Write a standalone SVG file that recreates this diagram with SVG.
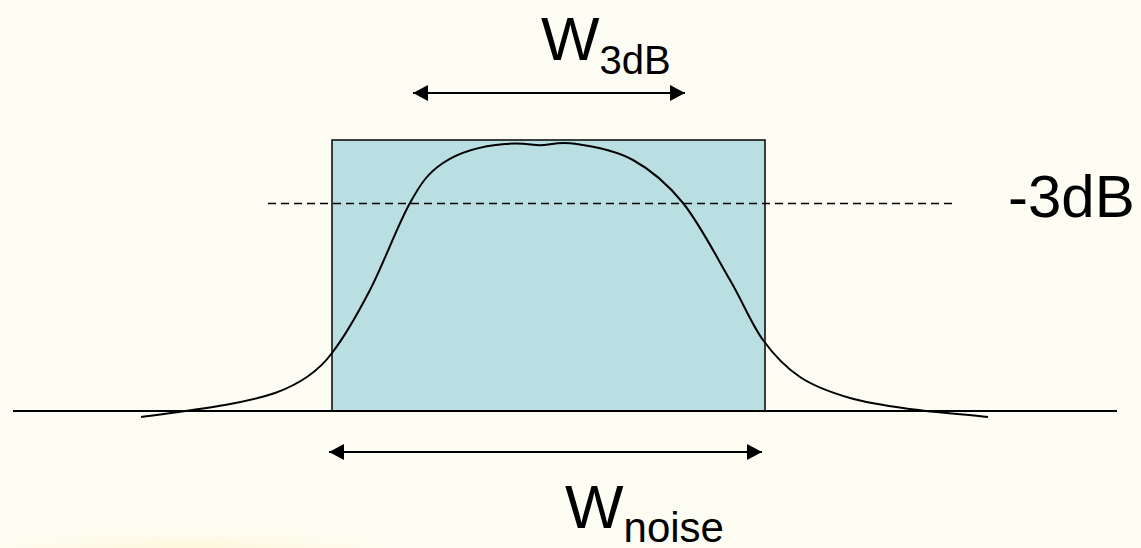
<svg xmlns="http://www.w3.org/2000/svg" width="1141" height="548" viewBox="0 0 1141 548">
  <defs>
    <style>
      .lbl { font-family: "Liberation Sans", Arial, sans-serif; fill: #000; }
      .axis { stroke: #000; stroke-width: 2; fill: none; }
      .dash { stroke: #000; stroke-width: 1.6; stroke-dasharray: 8 5; fill: none; }
      .curve { stroke: #000; stroke-width: 2; fill: none; }
      .dim { stroke: #000; stroke-width: 2; fill: none; marker-start: url(#ah); marker-end: url(#ah); }
    </style>
    <marker id="ah" viewBox="0 0 15 16" refX="15" refY="8" markerWidth="15" markerHeight="16" markerUnits="userSpaceOnUse" orient="auto-start-reverse">
      <path d="M0,0 L15,8 L0,16 Z" fill="#000"/>
    </marker>
    <radialGradient id="glow" cx="0.5" cy="0.5" r="0.5">
      <stop offset="0" stop-color="#FCEFC0" stop-opacity="0.9"/>
      <stop offset="1" stop-color="#FEFDF2" stop-opacity="0"/>
    </radialGradient>
  </defs>
  <rect x="0" y="0" width="1141" height="548" fill="#FEFDF3"/>
  <ellipse cx="190" cy="560" rx="290" ry="40" fill="url(#glow)"/>

  <g id="noise-band">
    <rect x="332" y="140" width="433" height="271" fill="#B9DFE2" stroke="#111" stroke-width="1.6"/>
  </g>

  <g id="axis">
    <line class="axis" x1="13" y1="411" x2="1117" y2="411"/>
  </g>

  <g id="threshold">
    <line class="dash" x1="268" y1="203.5" x2="957" y2="203.5"/>
    <text class="lbl" x="1008" y="217" font-size="60">-3dB</text>
  </g>

  <g id="response">
    <path class="curve" d="M141,417 C190,410 240,405 275,393 C300,384 318,372 332,353 C343.7,337.8 357,315 370,290 C383,265 398.3,223.5 410,203 C421,183 428,173 443,163 C458,153 480,146 505,144 C521.7,142.5 528,144.5 540,145.3 C552,144.5 559.5,141.6 575,143.8 C590.5,146 615,150.1 633,160 C651,169.9 666.8,183 683,203 C699.2,223 716.7,257.2 730,280 C743.3,302.8 751.3,323.8 763,340 C774.7,356.2 785.5,367.3 800,377 C814.5,386.7 831.7,392.7 850,398 C868.3,403.3 887,405.8 910,409 C933,412.2 962,414.3 988,417"/>
  </g>

  <g id="connectors">
    <line class="dim" x1="413" y1="93" x2="685" y2="93"/>
    <line class="dim" x1="329" y1="452" x2="762" y2="452"/>
  </g>

  <g id="w3db">
    <text class="lbl" x="541" y="60" font-size="62">W<tspan font-size="40" dy="14">3dB</tspan></text>
  </g>
  <g id="wnoise">
    <text class="lbl" x="565" y="528" font-size="62">W<tspan font-size="42" dy="14">noise</tspan></text>
  </g>
</svg>
